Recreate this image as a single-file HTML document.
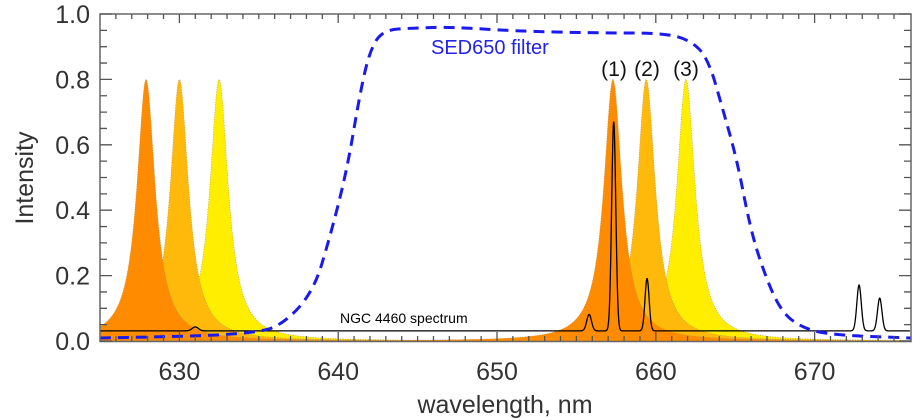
<!DOCTYPE html>
<html><head><meta charset="utf-8"><style>
html,body{margin:0;padding:0;background:#fff;}
svg{display:block;font-family:"Liberation Sans","DejaVu Sans",sans-serif;}
</style></head><body>
<svg id="s" width="924" height="420" xmlns="http://www.w3.org/2000/svg"></svg>
<script>
const s=document.getElementById('s');
const X=w=>100+(w-625)*15.88, Y=v=>341-327*v;
let h='';
const lor=(w,c,g)=>0.8/(1+((w-c)/g)**2);
function fill(c,col){let d='M'+X(625)+','+Y(0);for(let w=625;w<=676;w+=0.02)d+='L'+X(w).toFixed(2)+','+Y(lor(w,c,0.7)).toFixed(2);d+='L'+X(676)+','+Y(0)+'Z';return `<path d="${d}" fill="${col}" stroke="#b09060" stroke-width="0.6" stroke-dasharray="1,1.5"/>`;}
h+='<g clip-path="url(#c)">';
h+='<defs><clipPath id="c"><rect x="100" y="14" width="811" height="328"/></clipPath></defs>';
[[632.5,'#FFEE00'],[661.9,'#FFEE00'],[630,'#FFB90A'],[659.4,'#FFB90A'],[627.9,'#FF8C00'],[657.3,'#FF8C00']].forEach(a=>h+=fill(a[0],a[1]));
const pk=[[631,0.012,0.2],[655.8,0.05,0.15],[657.35,0.64,0.13],[659.45,0.16,0.13],[672.8,0.14,0.14],[674.1,0.1,0.14]];
let d='';for(let w=625;w<=676;w+=0.02){let v=0.031;pk.forEach(p=>v+=p[1]*Math.exp(-((w-p[0])**2)/(2*p[2]*p[2])));d+=(d?'L':'M')+X(w).toFixed(2)+','+Y(v).toFixed(2);}
h+=`<path d="${d}" fill="none" stroke="#000" stroke-width="1.3"/>`;
const fp=[[100,338],[200,336],[250,333],[280,327],[313,293],[330,237],[347,170],[360,93],[370,50],[383,30],[413,28],[453,27],[513,31],[597,33],[663,33],[690,40],[708,58],[723,110],[737,160],[750,227],[763,270],[780,310],[800,327],[830,335],[911,338]];
let fd='M'+fp[0];for(let i=1;i<fp.length;i++){const p0=fp[i-1],p1=fp[i];fd+='Q'+p0[0]+','+p0[1]+' '+((p0[0]+p1[0])/2)+','+((p0[1]+p1[1])/2);}fd+='L'+fp[fp.length-1];
h+=`<path d="${fd}" fill="none" stroke="#1a1aee" stroke-width="3" stroke-dasharray="11,7"/>`;
h+='</g>';
h+='<rect x="100" y="14" width="811" height="327.5" fill="none" stroke="#666" stroke-width="1.5"/>';
let t='';for(let w=626;w<=675;w++){const x=X(w),L=w%10==0?9:5;t+=`M${x},341V${341-L}M${x},14V${14+L}`;}
for(let i=0;i<=20;i++){const y=Y(i*0.05),L=i%4==0?12:7;t+=`M100,${y}H${100+L}M911,${y}H${911-L}`;}
h+=`<path d="${t}" stroke="#555" stroke-width="1.3" fill="none"/>`;
for(let i=0;i<=5;i++)h+=`<text x="90" y="${Y(i*0.2)+9}" font-size="25" fill="#333" text-anchor="end">${(i*0.2).toFixed(1)}</text>`;
for(let w=630;w<=670;w+=10)h+=`<text x="${X(w)}" y="380" font-size="25" fill="#333" text-anchor="middle">${w}</text>`;
h+='<text x="505" y="413" font-size="25" fill="#333" text-anchor="middle">wavelength, nm</text>';
h+='<text transform="translate(33,178) rotate(-90)" font-size="25" fill="#333" text-anchor="middle">Intensity</text>';
h+='<text x="431" y="54" font-size="20" fill="#2222ee">SED650 filter</text>';
h+='<text x="340" y="323" font-size="14" fill="#000">NGC 4460 spectrum</text>';
h+='<text x="614" y="76" font-size="21" fill="#111" text-anchor="middle">(1)</text>';
h+='<text x="647" y="76" font-size="21" fill="#111" text-anchor="middle">(2)</text>';
h+='<text x="686" y="76" font-size="21" fill="#111" text-anchor="middle">(3)</text>';
s.innerHTML=h;
</script>
</body></html>
